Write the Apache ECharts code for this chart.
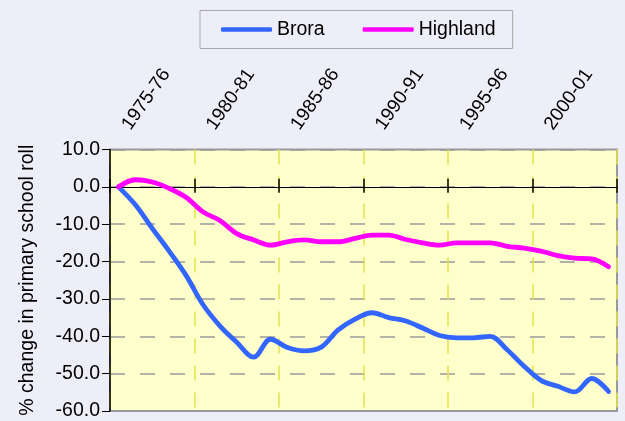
<!DOCTYPE html>
<html>
<head>
<meta charset="utf-8">
<script src="https://cdn.jsdelivr.net/npm/echarts@6/dist/echarts.min.js"></script>
<style>
html,body{margin:0;padding:0;background:#EEEEF8;}
#chart{width:625px;height:421px;}
</style>
</head>
<body>
<div id="chart"></div>
<script>
const years = ['1975-76','1976-77','1977-78','1978-79','1979-80','1980-81','1981-82','1982-83','1983-84','1984-85',
  '1985-86','1986-87','1987-88','1988-89','1989-90','1990-91','1991-92','1992-93','1993-94','1994-95',
  '1995-96','1996-97','1997-98','1998-99','1999-00','2000-01','2001-02','2002-03','2003-04','2004-05'];
const brora = [0, -4.8, -11.1, -17.2, -23.7, -31.5, -37.2, -41.6, -45.6, -40.8,
  -43.0, -43.9, -42.9, -38.3, -35.4, -33.7, -35.0, -35.9, -37.8, -39.8,
  -40.4, -40.4, -40.0, -43.6, -48.0, -51.8, -53.4, -54.9, -51.3, -54.8];
const highland = [0, 1.9, 1.3, -0.4, -2.8, -6.7, -9.0, -12.5, -14.2, -15.6,
  -14.7, -14.2, -14.7, -14.7, -13.8, -12.9, -12.9, -14.1, -15.0, -15.6,
  -15.0, -15.0, -15.0, -15.9, -16.4, -17.2, -18.4, -19.1, -19.3, -21.4];
const yMin = -60, yMax = 10, yStep = 10;

const FONT = "'Liberation Sans', Arial, sans-serif";
const chart = echarts.init(document.getElementById('chart'), null, {renderer: 'canvas'});
chart.setOption({
  animation: false,
  backgroundColor: '#EEEEF8',
  textStyle: {fontFamily: FONT},
  legend: {
    left: 200, top: 10.5,
    padding: [9, 17, 9, 21],
    itemGap: 38, itemWidth: 51, itemHeight: 4.5,
    icon: 'roundRect',
    borderColor: '#A8A8A8', borderWidth: 1,
    textStyle: {fontFamily: FONT, fontSize: 19.5, color: '#000'},
    data: ['Brora', 'Highland']
  },
  grid: {
    left: 110, right: 8, top: 149.5, bottom: 8.5,
    show: true, backgroundColor: '#FFFFCC', borderColor: '#999999', borderWidth: 2
  },
  xAxis: [
    {
      type: 'category', data: years, position: 'top', boundaryGap: true,
      axisLine: {show: false, onZero: false},
      axisTick: {show: false},
      axisLabel: {interval: 4, rotate: -55, margin: 27, verticalAlign: 'top',
        fontSize: 19, color: '#000', fontFamily: FONT},
      splitLine: {show: true, interval: 4, lineStyle: {color: '#E2E24A', width: 1.5, type: [15, 12]}}
    },
    {
      type: 'category', data: years, position: 'bottom', boundaryGap: true,
      axisLine: {show: true, onZero: true, lineStyle: {color: '#000', width: 1}},
      axisTick: {show: true, interval: 4, length: 6, lineStyle: {color: '#000', width: 1.5}},
      axisLabel: {show: false}, splitLine: {show: false}
    },
    {
      type: 'category', data: years, position: 'top', boundaryGap: true,
      axisLine: {show: false, onZero: true, onZeroAxisIndex: 1},
      axisTick: {show: true, interval: 4, length: 8, lineStyle: {color: '#000', width: 1.5}},
      axisLabel: {show: false}, splitLine: {show: false}
    }
  ],
  yAxis: [
    {
      type: 'value', min: yMin, max: yMax, interval: yStep,
      name: '% change in primary school roll', nameLocation: 'middle', nameGap: 72,
      nameTextStyle: {fontFamily: FONT, fontSize: 19.5, color: '#000'},
      axisLine: {show: true, lineStyle: {color: '#000', width: 1.5}},
      axisTick: {show: true, length: 8, lineStyle: {color: '#000'}},
      axisLabel: {margin: 10, fontSize: 19.5, color: '#000', fontFamily: FONT,
        formatter: v => v.toFixed(1)},
      splitLine: {show: true, lineStyle: {color: '#9A9A9A', width: 1.5, type: [15, 15]}}
    },
    {
      type: 'value', min: yMin, max: yMax, interval: yStep, show: false,
      splitLine: {show: false}
    }
  ],
  series: [
    {
      name: 'Brora', type: 'line', data: brora, xAxisIndex: 0, yAxisIndex: 0,
      smooth: 0.35, symbol: 'none',
      lineStyle: {color: '#3366FF', width: 4.8, cap: 'round', join: 'round'},
      itemStyle: {color: '#3366FF'}
    },
    {
      name: 'Highland', type: 'line', data: highland, xAxisIndex: 0, yAxisIndex: 0,
      smooth: 0.35, symbol: 'none',
      lineStyle: {color: '#FF00FF', width: 4.8, cap: 'round', join: 'round'},
      itemStyle: {color: '#FF00FF'}
    }
  ]
});
</script>
</body>
</html>
